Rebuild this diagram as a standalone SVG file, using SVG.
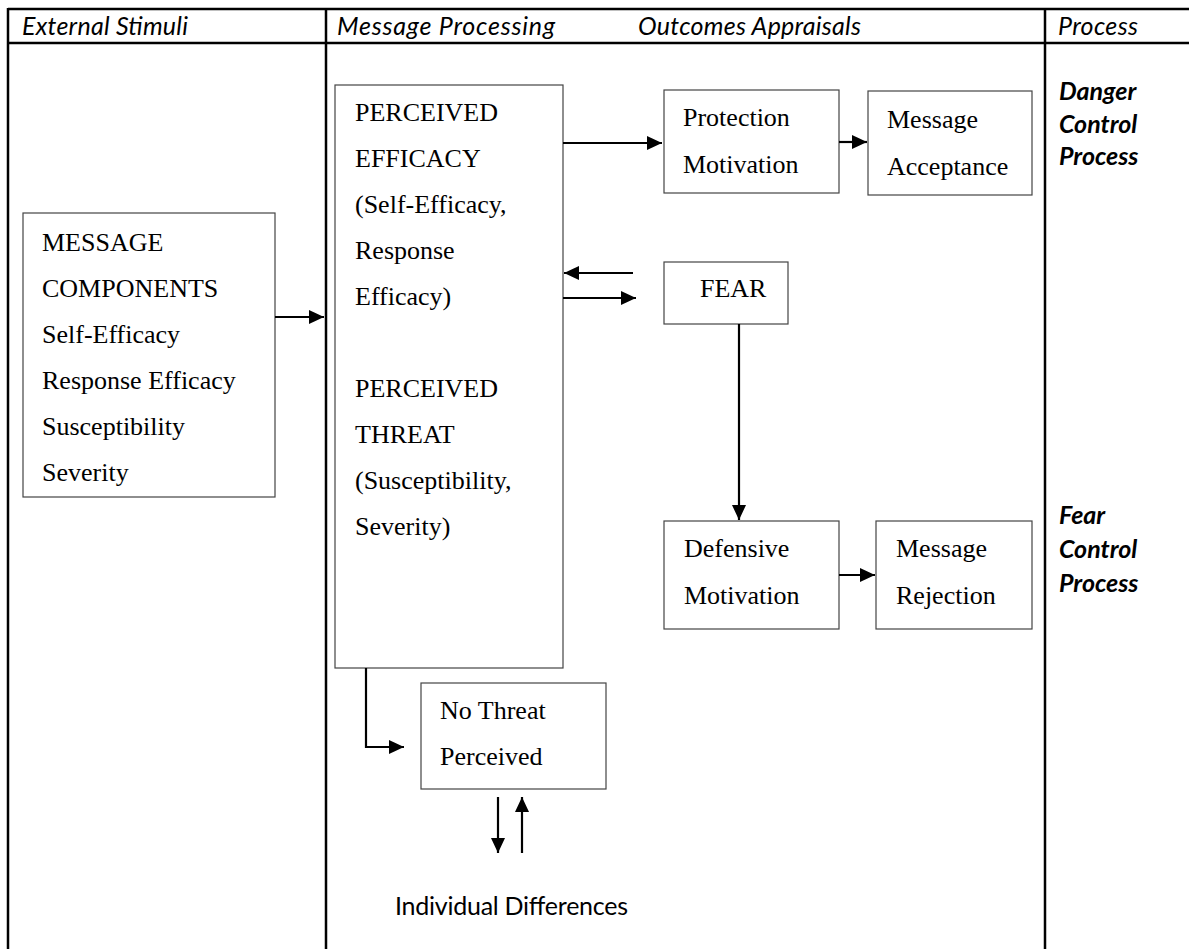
<svg xmlns="http://www.w3.org/2000/svg" width="1189" height="949" viewBox="0 0 1189 949">
<style>
  .grid { stroke: #000; stroke-width: 2.5; fill: none; }
  .box { fill: #fff; stroke: #444; stroke-width: 1.2; }
  .t { font-family: "Liberation Serif", "Times New Roman", serif; font-size: 26px; fill: #000; }
  .hdr { font-family: Lato, "Liberation Sans", sans-serif; font-style: italic; font-size: 25px; fill: #000; }
  .proc { font-family: Lato, "Liberation Sans", sans-serif; font-style: italic; font-weight: bold; font-size: 25px; fill: #000; }
  .lbl { font-family: Lato, "Liberation Sans", sans-serif; font-size: 25px; fill: #000; }
  .conn { stroke: #000; stroke-width: 2.2; fill: none; }
</style>
<defs>
  <marker id="ah" markerUnits="userSpaceOnUse" markerWidth="15" markerHeight="14" refX="15" refY="7" orient="auto">
    <path d="M0,0 L15,7 L0,14 Z" fill="#000"/>
  </marker>
</defs>
<rect x="0" y="0" width="1189" height="949" fill="#fff"/>

<g id="table">
  <line class="grid" x1="8" y1="9" x2="1189" y2="9"/>
  <line class="grid" x1="8" y1="43" x2="1189" y2="43"/>
  <line class="grid" x1="8" y1="8" x2="8" y2="949"/>
  <line class="grid" x1="326" y1="8" x2="326" y2="949"/>
  <line class="grid" x1="1045" y1="8" x2="1045" y2="949"/>
  <text class="hdr" x="22" y="35" textLength="166">External Stimuli</text>
  <text class="hdr" x="337" y="35" textLength="218">Message Processing</text>
  <text class="hdr" x="638" y="35" textLength="223">Outcomes Appraisals</text>
  <text class="hdr" x="1058" y="35" textLength="80">Process</text>
</g>

<g id="danger-control">
  <text class="proc" x="1059" y="100">Danger</text>
  <text class="proc" x="1059" y="133">Control</text>
  <text class="proc" x="1059" y="165">Process</text>
</g>
<g id="fear-control">
  <text class="proc" x="1059" y="524">Fear</text>
  <text class="proc" x="1059" y="558">Control</text>
  <text class="proc" x="1059" y="592">Process</text>
</g>

<g id="message-components">
  <rect class="box" x="23" y="213" width="252" height="284"/>
  <text class="t" x="42" y="251">MESSAGE</text>
  <text class="t" x="42" y="297">COMPONENTS</text>
  <text class="t" x="42" y="343">Self-Efficacy</text>
  <text class="t" x="42" y="389">Response Efficacy</text>
  <text class="t" x="42" y="435">Susceptibility</text>
  <text class="t" x="42" y="481">Severity</text>
</g>

<g id="perceived">
  <rect class="box" x="335" y="85" width="228" height="583"/>
  <text class="t" x="355" y="121">PERCEIVED</text>
  <text class="t" x="355" y="167">EFFICACY</text>
  <text class="t" x="355" y="213">(Self-Efficacy,</text>
  <text class="t" x="355" y="259">Response</text>
  <text class="t" x="355" y="305">Efficacy)</text>
  <text class="t" x="355" y="397">PERCEIVED</text>
  <text class="t" x="355" y="443">THREAT</text>
  <text class="t" x="355" y="489">(Susceptibility,</text>
  <text class="t" x="355" y="535">Severity)</text>
</g>

<g id="protection">
  <rect class="box" x="664" y="90" width="175" height="103"/>
  <text class="t" x="683" y="126">Protection</text>
  <text class="t" x="683" y="173">Motivation</text>
</g>

<g id="acceptance">
  <rect class="box" x="868" y="91" width="164" height="104"/>
  <text class="t" x="887" y="128">Message</text>
  <text class="t" x="887" y="175">Acceptance</text>
</g>

<g id="fear">
  <rect class="box" x="664" y="262" width="124" height="62"/>
  <text class="t" x="700" y="297">FEAR</text>
</g>

<g id="defensive">
  <rect class="box" x="664" y="521" width="175" height="108"/>
  <text class="t" x="684" y="557">Defensive</text>
  <text class="t" x="684" y="604">Motivation</text>
</g>

<g id="rejection">
  <rect class="box" x="876" y="521" width="156" height="108"/>
  <text class="t" x="896" y="557">Message</text>
  <text class="t" x="896" y="604">Rejection</text>
</g>

<g id="no-threat">
  <rect class="box" x="421" y="683" width="185" height="106"/>
  <text class="t" x="440" y="719">No Threat</text>
  <text class="t" x="440" y="765">Perceived</text>
</g>

<g id="individual-differences">
  <text class="lbl" x="395" y="915" textLength="233">Individual Differences</text>
</g>

<g id="connectors">
  <line class="conn" x1="275" y1="317" x2="324" y2="317" marker-end="url(#ah)"/>
  <line class="conn" x1="563" y1="143" x2="662" y2="143" marker-end="url(#ah)"/>
  <line class="conn" x1="839" y1="142" x2="867" y2="142" marker-end="url(#ah)"/>
  <line class="conn" x1="633" y1="273" x2="564" y2="273" marker-end="url(#ah)"/>
  <line class="conn" x1="563" y1="298" x2="636" y2="298" marker-end="url(#ah)"/>
  <line class="conn" x1="739" y1="324" x2="739" y2="520" marker-end="url(#ah)"/>
  <line class="conn" x1="839" y1="575" x2="875" y2="575" marker-end="url(#ah)"/>
  <polyline class="conn" points="366,668 366,747 404,747" marker-end="url(#ah)"/>
  <line class="conn" x1="498" y1="797" x2="498" y2="853" marker-end="url(#ah)"/>
  <line class="conn" x1="522" y1="853" x2="522" y2="797" marker-end="url(#ah)"/>
</g>
</svg>
